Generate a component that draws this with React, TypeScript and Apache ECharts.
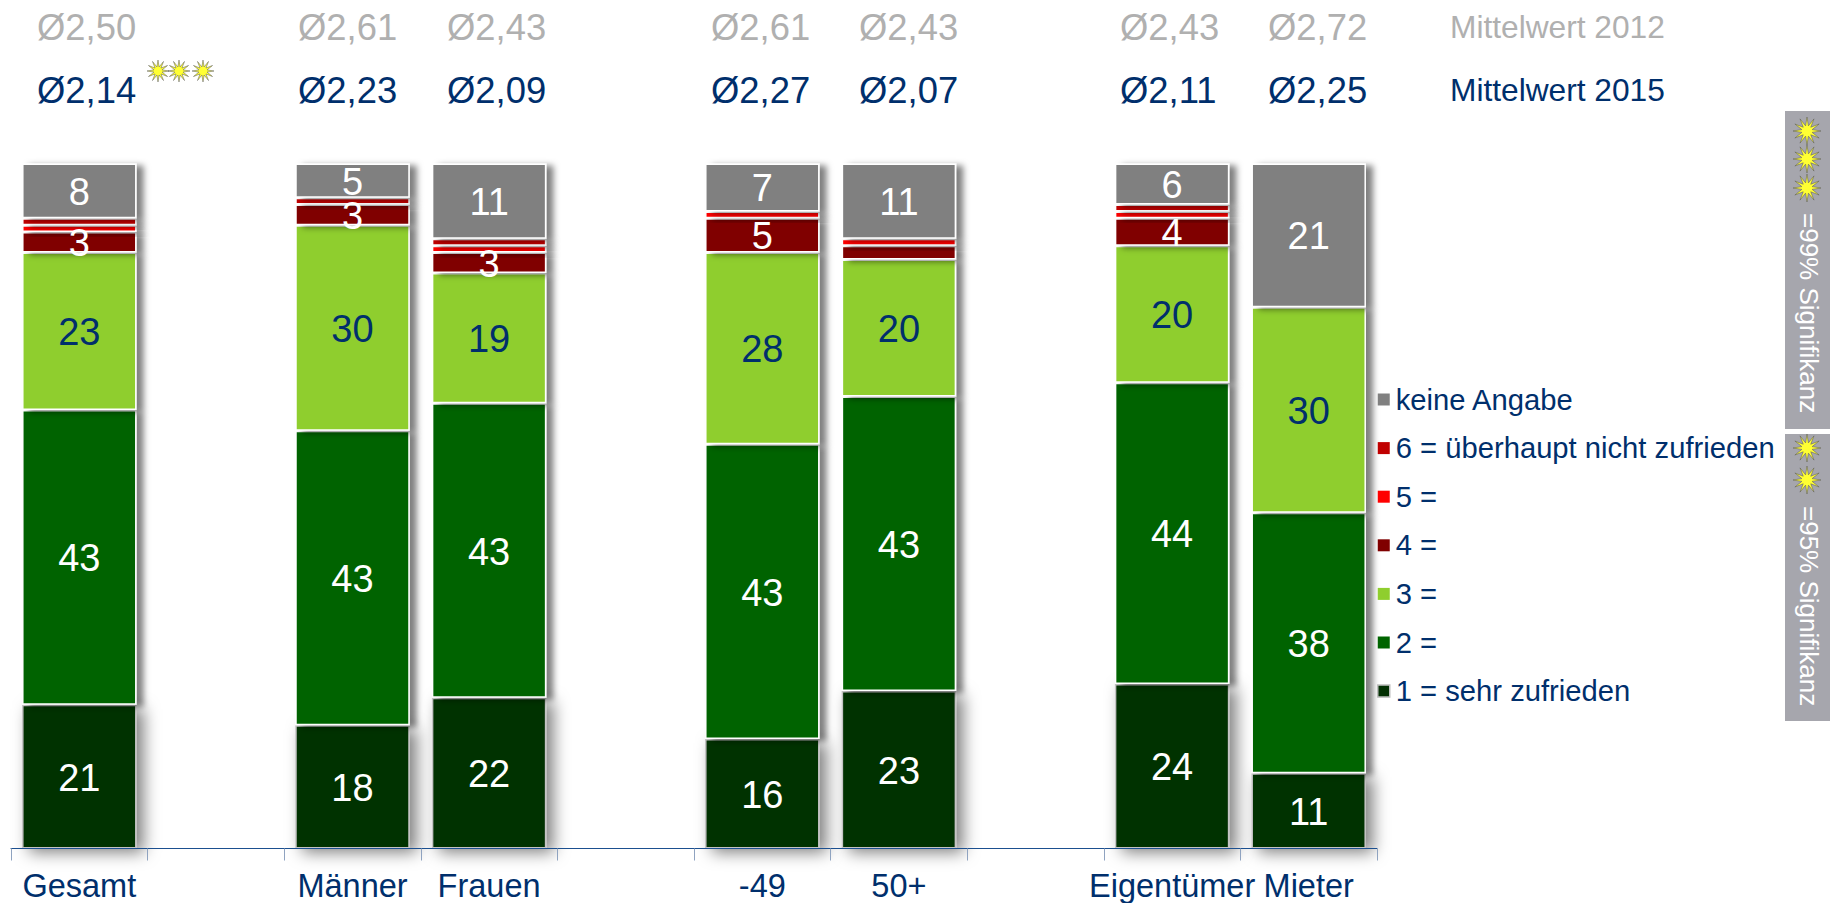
import React, { useEffect, useRef } from "react";
import * as echarts from "echarts";

const FONT = '"Liberation Sans", Arial, sans-serif';
const NAVY = "#002f6c";
const GREY_TEXT = "#b0b0b0";

const categories = ["Gesamt", "", "Männer", "Frauen", "", "-49", "50+", "", "Eigentümer", "Mieter"];
const seriesNames = ["1 = sehr zufrieden", "2 =", "3 =", "4 =", "5 =", "6 = überhaupt nicht zufrieden", "keine Angabe"];
const seriesColors = ["#033003", "#006400", "#8fce2e", "#800000", "#ff0000", "#c00000", "#808080"];

const v1 = [21, null, 18, 22, null, 16, 23, null, 24, 11];
const v2 = [43, null, 43, 43, null, 43, 43, null, 44, 38];
const v3 = [23, null, 30, 19, null, 28, 20, null, 20, 30];
const v4 = [3, null, 3, 3, null, 5, 2, null, 4, 0];
const v5 = [1, null, 0, 1, null, 1, 1, null, 1, 0];
const v6 = [1, null, 1, 1, null, 0, 0, null, 1, 0];
const v7 = [8, null, 5, 11, null, 7, 11, null, 6, 21];
const allValues = [v1, v2, v3, v4, v5, v6, v7];

const means2012 = ["Ø2,50", "Ø2,61", "Ø2,43", "Ø2,61", "Ø2,43", "Ø2,43", "Ø2,72"];
const means2015 = ["Ø2,14", "Ø2,23", "Ø2,09", "Ø2,27", "Ø2,07", "Ø2,11", "Ø2,25"];
const headerLeft = [37, 298, 447, 711, 859, 1120, 1268];

function starPoints(cx: number, cy: number, R: number, r: number, n = 12) {
  const pts: number[][] = [];
  for (let i = 0; i < n * 2; i++) {
    const a = (Math.PI * i) / n;
    const rad = i % 2 === 0 ? R : r;
    pts.push([cx + rad * Math.sin(a), cy - rad * Math.cos(a)]);
  }
  return pts;
}

function star(cx: number, cy: number, R = 11) {
  return {
    type: "polygon",
    z: 20,
    shape: { points: starPoints(cx, cy, R, R * 0.38) },
    style: { fill: "#ffff33", stroke: "#555", lineWidth: 0.5 },
  };
}

function headerText(text: string, x: number, y: number, fill: string, size = 36.4) {
  return {
    type: "text",
    x,
    y,
    style: { text, fill, font: `${size}px ${FONT}`, textVerticalAlign: "middle", textAlign: "left" },
  };
}

function sideText(text: string, x: number, y: number) {
  return {
    type: "text",
    x,
    y,
    rotation: -Math.PI / 2,
    z: 20,
    style: { text, fill: "#ffffff", font: `26px ${FONT}`, textVerticalAlign: "middle", textAlign: "left" },
  };
}

export default function App() {
  const ref = useRef<HTMLDivElement>(null);
  useEffect(() => {
    const chart = echarts.init(ref.current!, null, { renderer: "svg" });
    chart.setOption({
      animation: false,
      backgroundColor: "#ffffff",
      grid: { left: 11, width: 1366, top: 163.5, height: 685, containLabel: false },
      xAxis: {
        type: "category",
        data: categories,
        z: 10,
        boundaryGap: true,
        axisLine: { show: true, lineStyle: { color: "#1b4f8f", width: 1 } },
        axisTick: { show: true, length: 12, lineStyle: { color: "#8fa3c0", width: 1 } },
        axisLabel: { color: NAVY, fontSize: 32.5, fontFamily: FONT, margin: 21, interval: 0 },
      },
      yAxis: { type: "value", min: 0, max: 100, show: false },
      legend: {
        orient: "vertical",
        left: 1372,
        top: 380,
        icon: "rect",
        itemWidth: 12,
        itemHeight: 12,
        itemGap: 19.6,
        selectedMode: false,
        textStyle: { color: NAVY, fontSize: 29.2, fontFamily: FONT, padding: [0, 0, 0, 1] },
        data: [...seriesNames].reverse().map((name) => ({
          name,
          itemStyle: {
            borderWidth: name.startsWith("1") ? 1.5 : 0,
            borderColor: "#bdbdbd",
            shadowBlur: 0,
            shadowOffsetX: 0,
            shadowOffsetY: 0,
            shadowColor: "transparent",
          },
        })),
      },
      series: seriesNames.map((name, i) => ({
        name,
        type: "bar",
        stack: "total",
        barWidth: 114.5,
        data: allValues[i],
        itemStyle: {
          color: seriesColors[i],
          borderColor: i === 0 ? "#c4c4c4" : "#ffffff",
          borderWidth: 1.5,
          shadowColor: "rgba(0,0,0,0.5)",
          shadowBlur: i === 0 ? 16 : 6,
          shadowOffsetX: 7,
          shadowOffsetY: i === 0 ? 4 : 2,
        },
        label: {
          show: true,
          position: "inside",
          offset: [0, 1],
          fontSize: 38,
          fontFamily: FONT,
          color: i === 2 ? NAVY : "#ffffff",
          formatter: (p: any) => (p.value >= 3 ? String(p.value) : ""),
        },
        z: 2,
      })),
      graphic: [
        ...means2012.map((t, i) => headerText(t, headerLeft[i], 27, GREY_TEXT)),
        ...means2015.map((t, i) => headerText(t, headerLeft[i], 90, NAVY)),
        headerText("Mittelwert 2012", 1450, 27, GREY_TEXT, 31.7),
        headerText("Mittelwert 2015", 1450, 90, NAVY, 31.7),
        star(158, 71),
        star(179, 71),
        star(203, 71),
        { type: "rect", shape: { x: 1785, y: 111, width: 45, height: 318 }, style: { fill: "#a6a6ad" } },
        { type: "rect", shape: { x: 1785, y: 434, width: 45, height: 287 }, style: { fill: "#a6a6ad" } },
        star(1807, 131, 14),
        star(1807, 159, 14),
        star(1807, 188, 14),
        star(1807, 448, 14),
        star(1807, 480, 14),
        sideText("=99% Signifikanz", 1809, 213),
        sideText("=95% Signifikanz", 1809, 506),
      ],
    });
    return () => chart.dispose();
  }, []);
  return <div ref={ref} style={{ position: "absolute", left: 0, top: 0, width: 1830, height: 903 }} />;
}
